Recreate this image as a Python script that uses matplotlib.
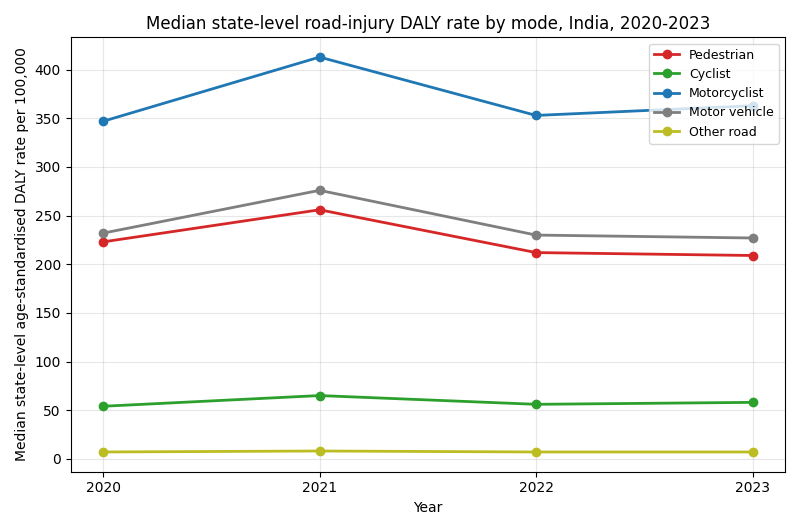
import matplotlib
matplotlib.use("Agg")
import matplotlib.pyplot as plt

years = [2020, 2021, 2022, 2023]
pedestrian = [223, 256, 212, 209]
cyclist = [54, 65, 56, 58]
motorcyclist = [347, 413, 353, 363]
motor_vehicle = [232, 276, 230, 227]
other_road = [7, 8, 7, 7]

series = [
    ("Pedestrian", pedestrian, "#d62728"),
    ("Cyclist", cyclist, "#2ca02c"),
    ("Motorcyclist", motorcyclist, "#1f77b4"),
    ("Motor vehicle", motor_vehicle, "#7f7f7f"),
    ("Other road", other_road, "#bcbd22"),
]

fig, ax = plt.subplots(figsize=(8, 5.3), dpi=100)
for name, vals, col in series:
    ax.plot(years, vals, marker="o", lw=2, ms=6, color=col, label=name)

ax.set_xticks(years)
ax.set_xlabel("Year")
ax.set_ylabel("Median state-level age-standardised DALY rate per 100,000")
ax.set_title("Median state-level road-injury DALY rate by mode, India, 2020-2023")
ax.grid(True, alpha=0.3)
ax.legend(loc="upper right", fontsize=9)
fig.tight_layout()
fig.savefig("out.png")
